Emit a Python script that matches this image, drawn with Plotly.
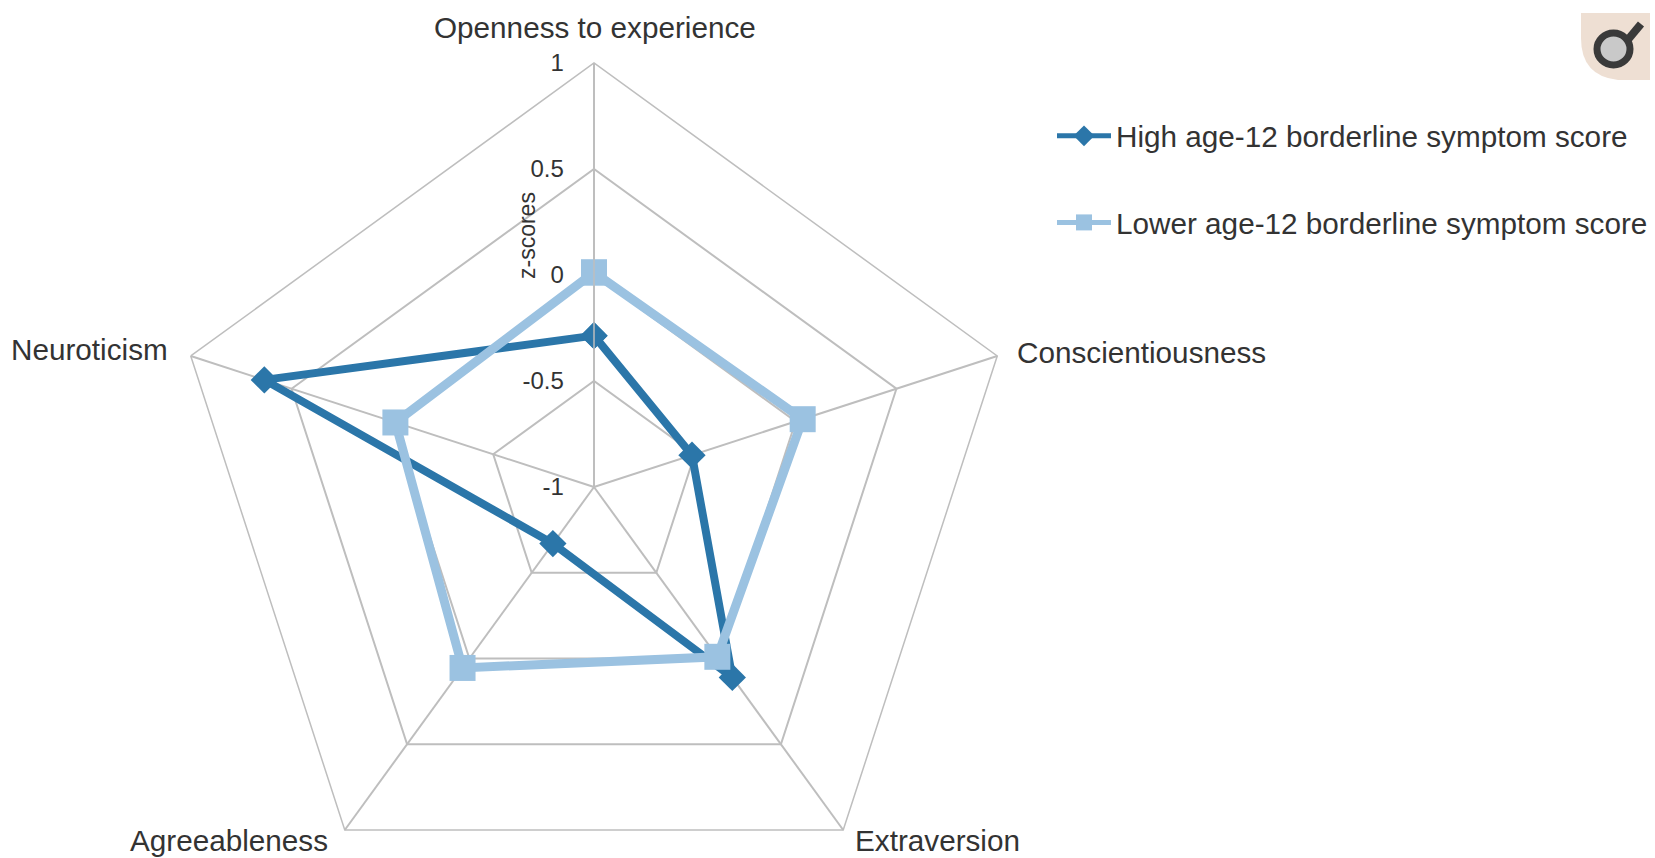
import plotly.graph_objects as go

categories = ["Openness to experience", "Conscientiousness", "Extraversion", "Agreeableness", "Neuroticism"]
high_scores = [-0.286, -0.514, 0.11, -0.67, 0.635]
lower_scores = [0.012, 0.035, -0.01, 0.055, -0.015]
series_names = ["High age-12 borderline symptom score", "Lower age-12 borderline symptom score"]
radial_ticks = [-1, -0.5, 0, 0.5, 1]
radial_labels = ["-1", "-0.5", "0", "0.5", "1"]

W, H = 1655, 912
CX, CY, R = 594, 487, 424
DARK, LIGHT, GRID, TEXT = "#2B76A9", "#9BC2E1", "#BEBEBE", "#333333"
FONT = "Liberation Sans"
Z_ORIGIN = -1  # plotly's linear-grid polar only keeps markers when the radial range starts at 0


def px(x):
    return x / W


def py(y):
    return 1 - y / H


def radial(v):
    closed = list(v) + list(v[:1])
    return [z - Z_ORIGIN for z in closed]


theta_closed = categories + categories[:1]

fig = go.Figure()
fig.add_trace(go.Scatterpolar(
    r=radial(high_scores), theta=theta_closed, name=series_names[0], mode="lines+markers", showlegend=False,
    line=dict(color=DARK, width=8), marker=dict(symbol="diamond", size=21, color=DARK),
))
fig.add_trace(go.Scatterpolar(
    r=radial(lower_scores), theta=theta_closed, name=series_names[1], mode="lines+markers", showlegend=False,
    line=dict(color=LIGHT, width=9), marker=dict(symbol="square", size=26, color=LIGHT),
))
# legend keys: the reference's legend uses thinner lines than its plotted series
fig.add_trace(go.Scatterpolar(
    r=[None], theta=[None], name=series_names[0], mode="lines+markers", legendgroup="a",
    line=dict(color=DARK, width=5), marker=dict(symbol="diamond", size=16, color=DARK),
))
fig.add_trace(go.Scatterpolar(
    r=[None], theta=[None], name=series_names[1], mode="lines+markers", legendgroup="b",
    line=dict(color=LIGHT, width=5), marker=dict(symbol="square", size=16, color=LIGHT),
))

shapes = [
    dict(type="path", xref="paper", yref="paper", line=dict(width=0), fillcolor="#EEDFD3",
         path=f"M {px(1581)} {py(13)} L {px(1650)} {py(13)} L {px(1650)} {py(80)} L {px(1618)} {py(80)} "
              f"Q {px(1581)} {py(76)} {px(1581)} {py(38)} Z"),
    dict(type="line", xref="paper", yref="paper", x0=px(1626), y0=py(42), x1=px(1641), y1=py(24),
         line=dict(color="#3A3A3A", width=8)),
    dict(type="circle", xref="paper", yref="paper", x0=px(1597), y0=py(33), x1=px(1630), y1=py(65),
         line=dict(color="#3A3A3A", width=7), fillcolor="#C9C9C9"),
]

label_font = dict(size=29.7, family=FONT, color=TEXT)
label_spots = [(595, 28, "center"), (1015, 352, "left"), (853, 840, "left"), (330, 840, "right"), (170, 349, "right")]
annotations = [
    dict(text=c, xref="paper", yref="paper", x=px(x), y=py(y), xanchor=a, yanchor="middle",
         showarrow=False, font=label_font)
    for c, (x, y, a) in zip(categories, label_spots)
]
annotations.append(dict(text="z-scores", xref="paper", yref="paper", x=px(527), y=py(236),
                        xanchor="center", yanchor="middle", textangle=-90, showarrow=False,
                        font=dict(size=23, family=FONT, color=TEXT)))

fig.update_layout(
    width=W, height=H, margin=dict(l=0, r=0, t=0, b=0), paper_bgcolor="white", plot_bgcolor="white",
    font=dict(family=FONT, color=TEXT, size=28),
    polar=dict(
        domain=dict(x=[px(CX - R), px(CX + R)], y=[py(CY + R), py(CY - R)]),
        gridshape="linear", bgcolor="white",
        angularaxis=dict(
            type="category", categoryorder="array", categoryarray=categories,
            rotation=90, direction="clockwise", showline=True, linecolor=GRID, linewidth=1.5,
            showgrid=True, gridcolor=GRID, gridwidth=1.5, ticks="", showticklabels=False,
        ),
        radialaxis=dict(
            range=[0, 2], tickmode="array", tickvals=[t - Z_ORIGIN for t in radial_ticks], ticktext=radial_labels,
            angle=90, tickangle=90, side="counterclockwise", showline=True, linecolor=GRID, linewidth=1.5,
            showgrid=True, gridcolor=GRID, gridwidth=1.5, ticks="outside", ticklen=21,
            tickcolor="rgba(0,0,0,0)", tickfont=dict(size=24, family=FONT, color=TEXT),
        ),
    ),
    legend=dict(
        x=px(1052), y=py(110), xanchor="left", yanchor="top", itemwidth=54,
        bgcolor="rgba(0,0,0,0)", font=label_font,
        tracegroupgap=45, traceorder="grouped",
    ),
    annotations=annotations,
    shapes=shapes,
)

fig.write_html(
    "out.html",
    config=dict(displayModeBar=False),
    post_script="document.body.style.margin='0';document.body.style.overflow='hidden';document.documentElement.style.overflow='hidden';",
)
